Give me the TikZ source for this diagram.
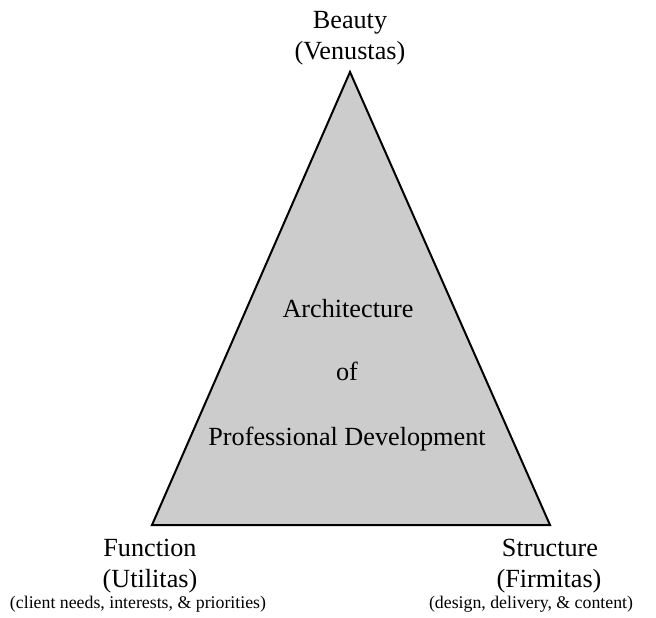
\documentclass[tikz,border=0pt]{standalone}
\usepackage{fontspec}
\setmainfont{Liberation Serif}
\usepackage{tikz}

\tikzset{
	big/.style={anchor=base, inner sep=0pt, font=\fontsize{13.1}{15}\selectfont},
	small/.style={anchor=base, inner sep=0pt, font=\fontsize{8.9}{10}\selectfont},
}

\begin{document}
\begin{tikzpicture}[x=0.5pt, y=-0.5pt]
		\useasboundingbox (0,0) rectangle (656,617) ;
		\coordinate (top) at (350,72) ;
		\coordinate (left) at (152,525) ;
		\coordinate (right) at (550,525) ;
		\draw[fill=black!20, line width=1pt, line join=miter] (top) -- (left) -- (right) -- cycle ;
		% sommet
		\node[big] (beauty) at (350,28) {Beauty} ;
		\node[big] (venustas) at (350,59) {(Venustas)} ;
		% milieu
		\node[big] (archi) at (348,317) {Architecture} ;
		\node[big] (of) at (347,380) {of} ;
		\node[big] (profdev) at (347,445) {Professional Development} ;
		% gauche
		\node[big] (function) at (150,556) {Function} ;
		\node[big] (utilitas) at (150,587) {(Utilitas)} ;
		\node[small] (client) at (138,608) {(client needs, interests, \& priorities)} ;
		% droite
		\node[big] (structure) at (550,556) {Structure} ;
		\node[big] (firmitas) at (549,587) {(Firmitas)} ;
		\node[small] (design) at (531,608) {(design, delivery, \& content)} ;
	\end{tikzpicture}
\end{document}
